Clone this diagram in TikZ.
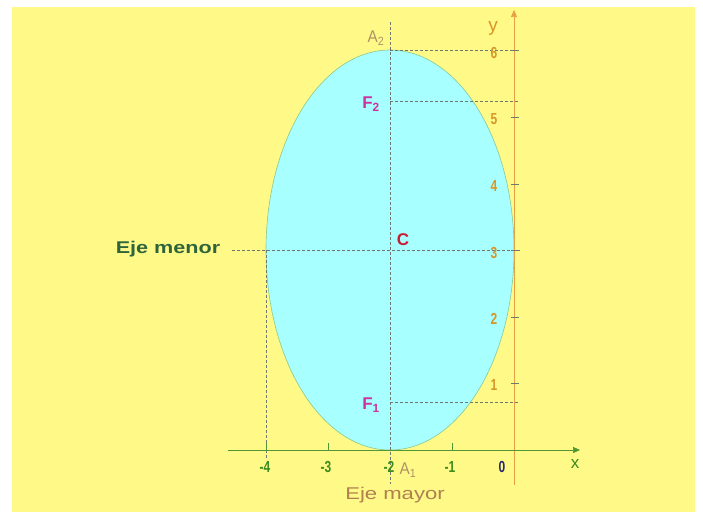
\documentclass[tikz,border=0pt]{standalone}
\usepackage{fontspec}
\setmainfont{Liberation Sans}
\usetikzlibrary{arrows.meta}
\definecolor{bgy}{RGB}{255,250,135}
\definecolor{elfill}{RGB}{168,255,255}
\definecolor{elline}{RGB}{140,200,140}
\definecolor{guide}{RGB}{110,120,110}
\definecolor{yax}{RGB}{232,160,64}
\definecolor{ylab}{RGB}{214,150,40}
\definecolor{xax}{RGB}{80,150,50}
\definecolor{xlab}{RGB}{60,140,30}
\definecolor{zerolab}{RGB}{40,40,110}
\definecolor{alab}{RGB}{176,146,100}
\definecolor{flab}{RGB}{204,50,160}
\definecolor{clab}{RGB}{200,30,50}
\definecolor{menor}{RGB}{46,100,60}
\definecolor{mayor}{RGB}{176,128,80}
\tikzset{
  guideline/.style={guide, densely dashed, line width=0.5pt},
  ytick/.style={font=\bfseries\fontsize{16}{16}\selectfont, text=ylab, inner sep=0pt, xscale=0.75},
  xtick/.style={font=\bfseries\fontsize{16}{16}\selectfont, text=xlab, inner sep=0pt, xscale=0.75},
  ptlab/.style={font=\bfseries\fontsize{17}{17}\selectfont, inner sep=0pt},
  alabel/.style={font=\fontsize{17}{17}\selectfont, text=alab, inner sep=0pt, xscale=0.9},
}
\begin{document}
\begin{tikzpicture}[x=1pt,y=-1pt]
\useasboundingbox (0,0) rectangle (703,512);
\fill[white] (0,0) rectangle (703,512);
\fill[bgy] (12,7) rectangle (695,512);
% ellipse
\coordinate (C0) at (390,250);
\fill[elfill] (C0) ellipse [x radius=124, y radius=200];
\draw[elline, line width=0.6pt] (C0) ellipse [x radius=124, y radius=200];
% coordinates
\coordinate (vtop) at (390,22);
\coordinate (vbot) at (390,484);
\coordinate (lft) at (266,250);
\coordinate (lbot) at (266,460);
\coordinate (hl) at (232,250);
\coordinate (hr) at (520,250);
\coordinate (a2) at (390,50);
\coordinate (a2r) at (519,50);
\coordinate (f2) at (390,101);
\coordinate (f2r) at (519,101);
\coordinate (f1) at (390,402);
\coordinate (f1r) at (519,402);
% guide lines
\draw[guideline] (vtop) -- (vbot);
\draw[guideline] (lft) -- (lbot);
\draw[guideline] (hl) -- (hr);
\draw[guideline] (a2) -- (a2r);
\draw[guideline] (f2) -- (f2r);
\draw[guideline] (f1) -- (f1r);
% axes
\coordinate (ybot) at (514,485);
\coordinate (ytop) at (514,10);
\coordinate (xl) at (228,450);
\coordinate (xr) at (580,450);
\draw[yax, line width=0.7pt, -{Triangle[length=7pt,width=6pt]}] (ybot) -- (ytop);
\draw[xax, line width=0.7pt, -{Triangle[length=7pt,width=6pt]}] (xl) -- (xr);
% ticks
\foreach \yy in {50,117,184,250,317,383} \draw[guide, line width=0.6pt] (511,\yy) -- (519,\yy);
\foreach \xx in {266,328,452} \draw[xax, line width=0.7pt] (\xx,443) -- (\xx,450);
% y tick labels
\node[ytick] (y6) at (494,53) {6};
\node[ytick] (y5) at (494,119) {5};
\node[ytick] (y4) at (494,186) {4};
\node[ytick] (y3) at (494,253) {3};
\node[ytick] (y2) at (494,319) {2};
\node[ytick] (y1) at (494,385) {1};
\node[font=\fontsize{19}{19}\selectfont, text=ylab, inner sep=0pt] (ylabel) at (493,28) {y};
% x tick labels
\node[xtick] (xm4) at (265,467) {-4};
\node[xtick] (xm3) at (326,467) {-3};
\node[xtick] (xm2) at (389,467) {-2};
\node[xtick] (xm1) at (450,467) {-1};
\node[font=\bfseries\fontsize{16}{16}\selectfont, text=zerolab, inner sep=0pt, xscale=0.75] (x0) at (502,467) {0};
\node[font=\fontsize{17}{17}\selectfont, text=xlab, inner sep=0pt] (xlabel) at (575,464) {x};
% point labels
\node[alabel] (A2) at (376,38) {A\textsubscript{2}};
\node[alabel] (A1) at (408,470) {A\textsubscript{1}};
\node[ptlab, text=flab] (F2) at (371,104) {F\textsubscript{2}};
\node[ptlab, text=flab] (F1) at (371,405) {F\textsubscript{1}};
\node[ptlab, text=clab] (C) at (403,240) {C};
\node[font=\bfseries\fontsize{17}{17}\selectfont, text=menor, inner sep=0pt, xscale=1.27] (emenor) at (168,249) {Eje menor};
\node[font=\fontsize{17}{17}\selectfont, text=mayor, inner sep=0pt, xscale=1.3] (emayor) at (395,495) {Eje mayor};
\end{tikzpicture}
\end{document}
